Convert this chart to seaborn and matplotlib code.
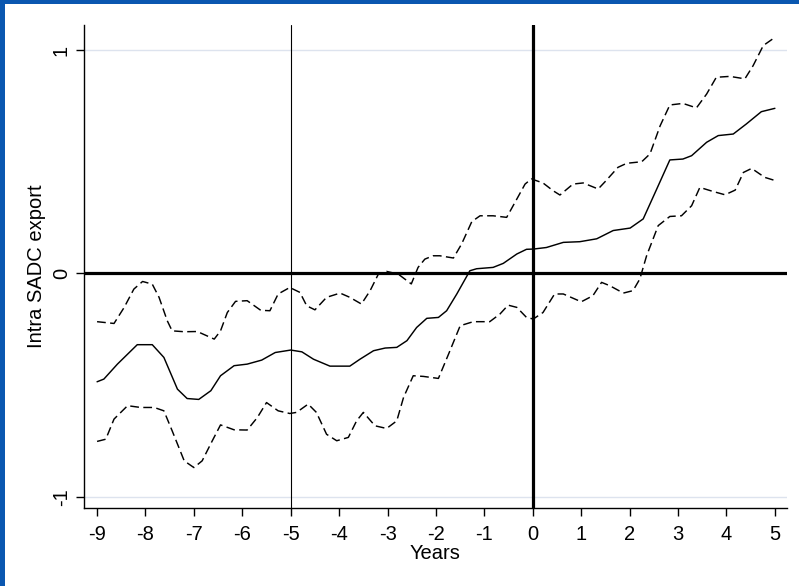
import matplotlib
matplotlib.use("Agg")
import matplotlib.pyplot as plt
from matplotlib.patches import Rectangle
import seaborn as sns
import pandas as pd

sns.set_theme(style="white")
plt.rcParams["font.family"] = ["Liberation Sans", "DejaVu Sans"]

# Point estimate of the effect, by years relative to the event
est_years = [-9.0, -8.86, -8.58, -8.17, -7.86, -7.62, -7.34, -7.14, -6.9, -6.65,
             -6.45, -6.17, -5.9, -5.6, -5.32, -5.0, -4.77, -4.53, -4.19, -3.78,
             -3.57, -3.29, -3.05, -2.81, -2.6, -2.4, -2.19, -1.95, -1.78, -1.57,
             -1.3, -1.16, -0.82, -0.61, -0.33, -0.13, 0.01, 0.28, 0.63, 0.97,
             1.32, 1.66, 2.01, 2.28, 2.56, 2.83, 3.1, 3.28, 3.59, 3.83,
             4.14, 4.41, 4.72, 5.0]
est_values = [-0.485, -0.473, -0.406, -0.319, -0.319, -0.376, -0.518, -0.56, -0.564, -0.525,
              -0.458, -0.413, -0.406, -0.388, -0.354, -0.343, -0.351, -0.384, -0.415, -0.415,
              -0.384, -0.346, -0.334, -0.331, -0.301, -0.242, -0.201, -0.197, -0.167, -0.092,
              0.012, 0.021, 0.027, 0.045, 0.087, 0.108, 0.109, 0.116, 0.139, 0.142,
              0.155, 0.192, 0.203, 0.244, 0.378, 0.508, 0.512, 0.527, 0.587, 0.617,
              0.624, 0.669, 0.724, 0.739]

# Upper confidence bound
upper_years = [-9.0, -8.65, -8.44, -8.24, -8.06, -7.86, -7.72, -7.55, -7.45, -7.2,
               -6.93, -6.58, -6.45, -6.31, -6.14, -5.9, -5.62, -5.43, -5.26, -5.02,
               -4.81, -4.67, -4.5, -4.26, -3.98, -3.78, -3.54, -3.36, -3.19, -3.02,
               -2.78, -2.51, -2.37, -2.23, -2.06, -1.92, -1.64, -1.47, -1.26, -1.09,
               -0.82, -0.54, -0.33, -0.16, -0.03, 0.21, 0.42, 0.56, 0.83, 1.04,
               1.35, 1.49, 1.76, 1.94, 2.25, 2.42, 2.63, 2.83, 3.1, 3.38,
               3.59, 3.79, 4.07, 4.38, 4.55, 4.76, 4.97]
upper_values = [-0.216, -0.224, -0.152, -0.07, -0.036, -0.048, -0.107, -0.212, -0.257, -0.261,
                -0.26, -0.294, -0.257, -0.175, -0.125, -0.122, -0.165, -0.167, -0.092, -0.063,
                -0.085, -0.145, -0.163, -0.107, -0.088, -0.107, -0.137, -0.077, -0.003, 0.009,
                -0.003, -0.047, 0.027, 0.064, 0.079, 0.079, 0.069, 0.132, 0.232, 0.258,
                0.258, 0.251, 0.333, 0.4, 0.423, 0.405, 0.37, 0.351, 0.4, 0.405,
                0.378, 0.41, 0.475, 0.493, 0.5, 0.535, 0.661, 0.754, 0.761, 0.741,
                0.803, 0.878, 0.882, 0.871, 0.93, 1.02, 1.052]

# Lower confidence bound
lower_years = [-9.0, -8.82, -8.65, -8.37, -8.1, -7.82, -7.62, -7.45, -7.2, -7.0,
               -6.83, -6.62, -6.45, -6.17, -5.9, -5.69, -5.5, -5.26, -5.02, -4.88,
               -4.64, -4.47, -4.26, -4.05, -3.81, -3.64, -3.5, -3.26, -3.02, -2.81,
               -2.67, -2.47, -2.26, -1.95, -1.74, -1.5, -1.23, -0.89, -0.68, -0.51,
               -0.33, -0.13, 0.01, 0.21, 0.45, 0.63, 1.0, 1.24, 1.42, 1.59,
               1.87, 2.07, 2.21, 2.35, 2.59, 2.83, 3.07, 3.28, 3.45, 3.72,
               3.97, 4.18, 4.35, 4.52, 4.79, 4.97]
lower_values = [-0.752, -0.742, -0.652, -0.592, -0.6, -0.6, -0.615, -0.704, -0.839, -0.869,
                -0.839, -0.749, -0.678, -0.7, -0.701, -0.645, -0.578, -0.615, -0.627, -0.622,
                -0.585, -0.622, -0.72, -0.749, -0.734, -0.66, -0.622, -0.682, -0.694, -0.66,
                -0.555, -0.458, -0.461, -0.47, -0.361, -0.234, -0.216, -0.216, -0.182, -0.142,
                -0.152, -0.197, -0.204, -0.175, -0.092, -0.092, -0.127, -0.1, -0.04, -0.055,
                -0.088, -0.077, -0.025, 0.079, 0.214, 0.255, 0.258, 0.303, 0.385, 0.367,
                0.352, 0.373, 0.452, 0.47, 0.43, 0.418]

x_ticks = list(range(-9, 6))
y_ticks = [-1, 0, 1]

W, H = 799, 586
fig = plt.figure(figsize=(W / 100, H / 100), dpi=100, facecolor="#0a57b0")
# white slide panel behind the plot
fig.patches.append(Rectangle((5 / W, 0), 1 - 5 / W, 1 - 4 / H, transform=fig.transFigure,
                             facecolor="white", edgecolor="none", zorder=-5))

ax = fig.add_axes([84 / W, 1 - 508 / H, (787 - 84) / W, (508 - 25) / H])
ax.set_zorder(1)
ax.set_facecolor("none")

# reference lines
for yv in (-1, 1):
    ax.axhline(yv, color="#dde3ee", lw=1.0, zorder=1)
ax.axhline(0, color="black", lw=2.3, zorder=2)
ax.axvline(0, color="black", lw=2.3, zorder=2)
ax.axvline(-5, color="black", lw=0.8, zorder=2)

line_kw = dict(ax=ax, color="black", lw=1.05, estimator=None, sort=False, zorder=3)
sns.lineplot(x=est_years, y=est_values, **line_kw)
sns.lineplot(x=upper_years, y=upper_values, linestyle=(0, (6, 3)), **line_kw)
sns.lineplot(x=lower_years, y=lower_values, linestyle=(0, (6, 3)), **line_kw)

ax.set_xlim(-9.27, 5.25)
ax.set_ylim(-1.05, 1.112)
ax.set_xticks(x_ticks)
ax.set_xticklabels([str(t) for t in x_ticks])
ax.set_yticks(y_ticks)
ax.set_yticklabels([str(t) for t in y_ticks], rotation=90, va="center")

for side in ("top", "right"):
    ax.spines[side].set_visible(False)
for side in ("left", "bottom"):
    ax.spines[side].set_color("black")
    ax.spines[side].set_linewidth(1.0)

ax.tick_params(axis="both", which="major", direction="out", length=5.5, width=1.0,
               color="black", labelsize=14.5, labelcolor="black",
               bottom=True, left=True)
ax.tick_params(axis="x", pad=7)
ax.tick_params(axis="y", pad=4)
ax.set_xlabel("Years", fontsize=14.5, color="black", labelpad=0)
ax.set_ylabel("Intra SADC export", fontsize=14.5, color="black", labelpad=4)
ax.grid(False)

fig.savefig("out.png", dpi=100, facecolor=fig.get_facecolor())
